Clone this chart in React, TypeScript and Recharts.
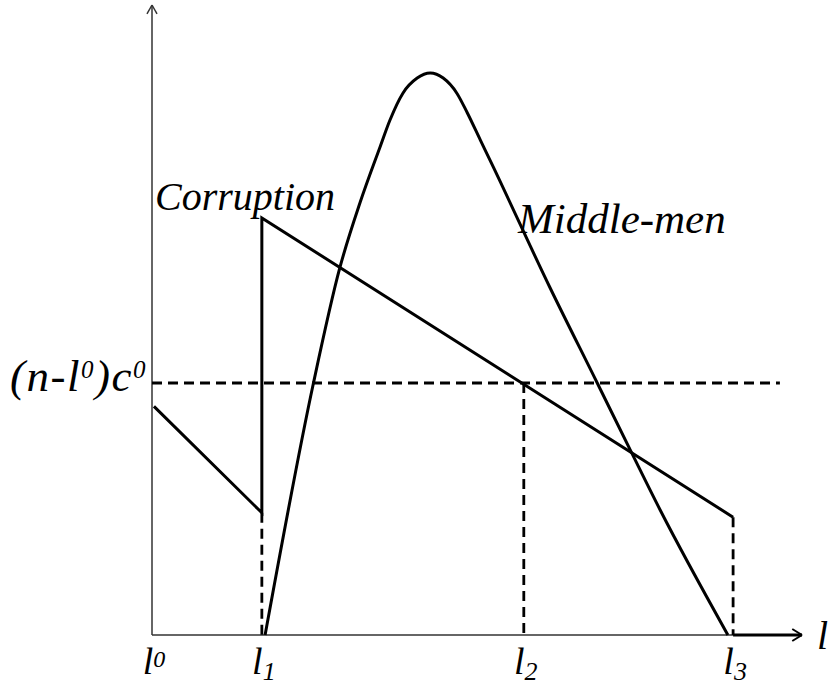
import { LineChart, Line, XAxis, YAxis, ReferenceLine, ReferenceDot } from 'recharts'

// positions on the l axis (0 = l0)
const L1 = 16.9
const L2 = 57.2
const L3 = 89.4
// (n-l0)c0 level
const THRESHOLD = 40

const xTicks = [0, L1, L2, L3]
const xTickIndex = ['0', '1', '2', '3']

const corruption = [
  { l: 0.3, v: 36.3 },
  { l: L1, v: 19.4 },
  { l: L1, v: 66.2 },
  { l: L3, v: 18.7 },
]

const middleMen = [
  { l: 17.4, v: 0 },
  { l: 24.8, v: 39.8 },
  { l: 28.9, v: 58.3 },
  { l: 32.0, v: 68.6 },
  { l: 35.1, v: 77.5 },
  { l: 36.6, v: 81.7 },
  { l: 38.6, v: 86.0 },
  { l: 40.8, v: 88.4 },
  { l: 42.8, v: 89.2 },
  { l: 44.8, v: 88.4 },
  { l: 46.9, v: 86.0 },
  { l: 48.5, v: 82.9 },
  { l: 50.5, v: 78.6 },
  { l: 52.5, v: 74.3 },
  { l: 61.2, v: 55.2 },
  { l: 68.5, v: 40.0 },
  { l: 73.8, v: 28.9 },
  { l: 78.2, v: 19.8 },
  { l: 88.6, v: 0 },
]

const FONT = '"Liberation Serif", "Times New Roman", serif'
const INK = '#000'
const AXIS = '#333'

function XTick(props: any) {
  const { x, y, payload } = props
  const i = xTicks.indexOf(payload.value)
  const sup = i === 0
  return (
    <text x={x + 2} y={y + 39} textAnchor="middle" fontFamily={FONT} fontStyle="italic" fontSize={38} fill={INK}>
      l
      <tspan fontSize={sup ? 24 : 26} dy={sup ? -7 : 6}>{xTickIndex[i]}</tspan>
    </text>
  )
}

function YTick(props: any) {
  const { x, y } = props
  return (
    <text x={x - 5} y={y + 8} textAnchor="end" fontFamily={FONT} fontStyle="italic" fontSize={45} letterSpacing={1.5} fill={INK}>
      (n-l
      <tspan fontSize={25} dy={-13}>0</tspan>
      <tspan dy={13}>)c</tspan>
      <tspan fontSize={25} dy={-13}>0</tspan>
    </text>
  )
}

function CurveLabel(props: any) {
  const { viewBox, text, size } = props
  return (
    <text x={viewBox.x} y={viewBox.y} fontFamily={FONT} fontStyle="italic" fontSize={size} fill={INK}>
      {text}
    </text>
  )
}

const dash = '10 6'

export default function App() {
  return (
    <div style={{ position: 'absolute', left: 0, top: 0, background: '#fff' }}>
      <LineChart width={828} height={685} margin={{ top: 5, right: 26, bottom: 0, left: 0 }}>
        <XAxis
          type="number"
          dataKey="l"
          domain={[0, 100]}
          ticks={xTicks}
          tick={<XTick />}
          axisLine={false}
          tickLine={false}
          tickSize={0}
          tickMargin={0}
          height={50}
          interval={0}
          allowDuplicatedCategory={false}
        />
        <YAxis
          type="number"
          domain={[0, 100]}
          ticks={[THRESHOLD]}
          tick={<YTick />}
          axisLine={false}
          tickLine={false}
          tickSize={0}
          tickMargin={0}
          width={152}
        />

        {/* axes with arrows */}
        <ReferenceLine segment={[{ x: 0, y: 0 }, { x: 0, y: 100 }]} stroke={AXIS} strokeWidth={1.5} ifOverflow="visible" />
        <ReferenceLine segment={[{ x: -0.77, y: 98.6 }, { x: 0, y: 100 }]} stroke={AXIS} strokeWidth={1.5} ifOverflow="visible" />
        <ReferenceLine segment={[{ x: 0.77, y: 98.6 }, { x: 0, y: 100 }]} stroke={AXIS} strokeWidth={1.5} ifOverflow="visible" />
        <ReferenceLine segment={[{ x: 0, y: 0 }, { x: 100, y: 0 }]} stroke={AXIS} strokeWidth={1.5} ifOverflow="visible"
          label={{ value: 'l', position: 'right', offset: 15, fontFamily: FONT, fontStyle: 'italic', fontSize: 40, fill: INK }} />
        <ReferenceLine segment={[{ x: L3, y: 0 }, { x: 100, y: 0 }]} stroke={INK} strokeWidth={3} ifOverflow="visible" />
        <ReferenceLine segment={[{ x: 98.5, y: 0.95 }, { x: 100, y: 0 }]} stroke={INK} strokeWidth={2} ifOverflow="visible" />
        <ReferenceLine segment={[{ x: 98.5, y: -0.95 }, { x: 100, y: 0 }]} stroke={INK} strokeWidth={2} ifOverflow="visible" />

        {/* dashed guides */}
        <ReferenceLine segment={[{ x: 0, y: THRESHOLD }, { x: 96.6, y: THRESHOLD }]} stroke={INK} strokeWidth={2.8} strokeDasharray={dash} ifOverflow="visible" />
        <ReferenceLine segment={[{ x: L1, y: 19.4 }, { x: L1, y: 0 }]} stroke={INK} strokeWidth={2.8} strokeDasharray={dash} ifOverflow="visible" />
        <ReferenceLine segment={[{ x: L2, y: THRESHOLD }, { x: L2, y: 0 }]} stroke={INK} strokeWidth={2.8} strokeDasharray={dash} ifOverflow="visible" />
        <ReferenceLine segment={[{ x: L3, y: 18.7 }, { x: L3, y: 0 }]} stroke={INK} strokeWidth={2.8} strokeDasharray={dash} ifOverflow="visible" />

        <Line data={corruption} dataKey="v" type="linear" stroke={INK} strokeWidth={3} dot={false} isAnimationActive={false} />
        <Line data={middleMen} dataKey="v" type="monotone" stroke={INK} strokeWidth={3} dot={false} isAnimationActive={false} />

        <ReferenceDot x={0.46} y={67.5} r={0} stroke="none" fill="none" ifOverflow="visible"
          label={<CurveLabel text="Corruption" size={40} />} />
        <ReferenceDot x={56.3} y={63.8} r={0} stroke="none" fill="none" ifOverflow="visible"
          label={<CurveLabel text="Middle-men" size={43} />} />
      </LineChart>
    </div>
  )
}
